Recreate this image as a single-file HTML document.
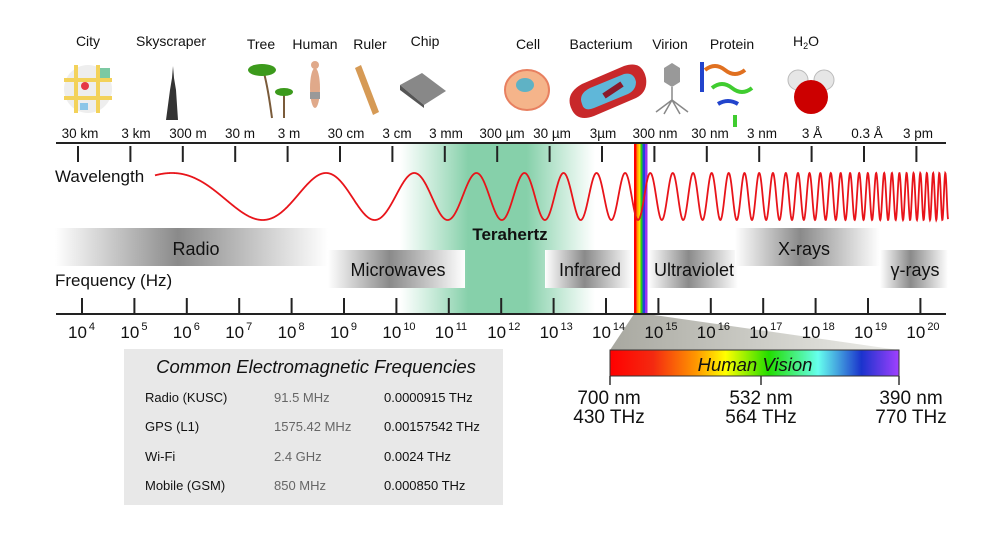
<!DOCTYPE html>
<html><head><meta charset="utf-8"><style>
html,body{margin:0;padding:0;background:#fff}
svg{display:block;font-family:"Liberation Sans",Arial,sans-serif}
</style></head><body>
<svg width="1000" height="539" viewBox="0 0 1000 539" xmlns="http://www.w3.org/2000/svg">
<defs>
<linearGradient id="thz" x1="0" x2="1" y1="0" y2="0">
<stop offset="0" stop-color="#8fd6b2" stop-opacity="0"/>
<stop offset="0.35" stop-color="#86d0aa"/>
<stop offset="0.65" stop-color="#86d0aa"/>
<stop offset="1" stop-color="#8fd6b2" stop-opacity="0"/>
</linearGradient>
<linearGradient id="band" x1="0" x2="1" y1="0" y2="0">
<stop offset="0" stop-color="#fff"/>
<stop offset="0.45" stop-color="#8a8a8a"/>
<stop offset="1" stop-color="#fff"/>
</linearGradient>
<linearGradient id="vis" x1="0" x2="1" y1="0" y2="0">
<stop offset="0" stop-color="#f00"/>
<stop offset="0.15" stop-color="#f42a10"/>
<stop offset="0.3" stop-color="#ff9900"/>
<stop offset="0.4" stop-color="#ffff00"/>
<stop offset="0.55" stop-color="#22dd00"/>
<stop offset="0.72" stop-color="#66ffee"/>
<stop offset="0.87" stop-color="#1a33cc"/>
<stop offset="1" stop-color="#a040ff"/>
</linearGradient>
<linearGradient id="wedge" x1="0" x2="1" y1="0" y2="0">
<stop offset="0" stop-color="#a8a8a0"/>
<stop offset="1" stop-color="#eeeeea"/>
</linearGradient>
</defs>

<!-- terahertz -->
<rect x="400" y="143" width="195" height="171" fill="url(#thz)"/>

<!-- wedge (behind labels) -->
<path d="M634 314 L647 314 L899 350 L610 350 Z" fill="url(#wedge)"/>

<!-- bands -->
<rect x="55" y="228" width="273" height="38" fill="url(#band)"/>
<rect x="328" y="250" width="137" height="38" fill="url(#band)"/>
<rect x="545" y="250" width="88" height="38" fill="url(#band)"/>
<rect x="648" y="250" width="90" height="38" fill="url(#band)"/>
<rect x="735" y="228" width="145" height="38" fill="url(#band)"/>
<rect x="880" y="250" width="68" height="38" fill="url(#band)"/>
<g font-size="18" fill="#111" text-anchor="middle">
<text x="196" y="255">Radio</text>
<text x="398" y="276">Microwaves</text>
<text x="590" y="276">Infrared</text>
<text x="694" y="276">Ultraviolet</text>
<text x="804" y="255">X-rays</text>
<text x="915" y="276">γ-rays</text>
</g>
<text x="510" y="240" font-size="17" font-weight="bold" text-anchor="middle" fill="#111">Terahertz</text>

<!-- rainbow strip -->
<rect x="634" y="143" width="2.5" height="171" fill="#f00"/>
<rect x="636.5" y="143" width="2" height="171" fill="#f90"/>
<rect x="638.5" y="143" width="2" height="171" fill="#fd0"/>
<rect x="640.5" y="143" width="2" height="171" fill="#2c2"/>
<rect x="642.5" y="143" width="2.5" height="171" fill="#2244dd"/>
<rect x="645" y="143" width="2.5" height="171" fill="#9933ee"/>

<!-- wave -->
<path id="wave" d="" fill="none" stroke="#e8141a" stroke-width="1.8"/>

<!-- axes -->
<line x1="56" y1="143" x2="946" y2="143" stroke="#222" stroke-width="2"/>
<line x1="56" y1="314" x2="946" y2="314" stroke="#222" stroke-width="2"/>
<g id="ticks" stroke="#222" stroke-width="2"></g>

<g font-size="13.5" fill="#111" text-anchor="middle">
<text x="80" y="138">30 km</text><text x="136" y="138">3 km</text><text x="188" y="138">300 m</text>
<text x="240" y="138">30 m</text><text x="289" y="138">3 m</text><text x="346" y="138">30 cm</text>
<text x="397" y="138">3 cm</text><text x="446" y="138">3 mm</text><text x="502" y="138">300 µm</text>
<text x="552" y="138">30 µm</text><text x="603" y="138">3µm</text><text x="655" y="138">300 nm</text>
<text x="710" y="138">30 nm</text><text x="762" y="138">3 nm</text><text x="812" y="138">3 Å</text>
<text x="867" y="138">0.3 Å</text><text x="918" y="138">3 pm</text>
</g>
<g id="botlabels" font-size="17" fill="#111"></g>

<text x="55" y="182" font-size="17" fill="#111">Wavelength</text>
<text x="55" y="286" font-size="17" fill="#111">Frequency (Hz)</text>

<!-- top icon labels -->
<g font-size="14" fill="#111" text-anchor="middle">
<text x="88" y="46">City</text><text x="171" y="46">Skyscraper</text>
<text x="261" y="49">Tree</text><text x="315" y="49">Human</text><text x="370" y="49">Ruler</text>
<text x="425" y="46">Chip</text><text x="528" y="49">Cell</text><text x="601" y="49">Bacterium</text>
<text x="670" y="49">Virion</text><text x="732" y="49">Protein</text>
<text x="806" y="46">H<tspan font-size="9" dy="3">2</tspan><tspan dy="-3">O</tspan></text>
</g>

<!-- icons -->
<circle cx="88" cy="89" r="24" fill="#eeeeee"/>
<rect x="64" y="78" width="48" height="4" fill="#f3d25a"/><rect x="64" y="96" width="48" height="4" fill="#f3d25a"/>
<rect x="74" y="65" width="4" height="48" fill="#f3d25a"/><rect x="96" y="65" width="4" height="48" fill="#f3d25a"/>
<rect x="100" y="68" width="10" height="10" fill="#7cc9a3"/><rect x="80" y="103" width="8" height="7" fill="#8cc6e8"/>
<circle cx="85" cy="86" r="4" fill="#e53945"/>
<path d="M166 120 h12 l-2 -30 l-2 -12 l-1 -12 l-1 12 l-2 12 z" fill="#333"/>
<path d="M272 118 q-4 -30 -8 -45" stroke="#7a5b3a" stroke-width="2" fill="none"/>
<ellipse cx="262" cy="70" rx="14" ry="6" fill="#3c9a1c"/>
<path d="M284 118 q0 -15 0 -25" stroke="#7a5b3a" stroke-width="2" fill="none"/>
<ellipse cx="284" cy="92" rx="9" ry="4" fill="#3c9a1c"/>
<ellipse cx="315" cy="88" rx="5" ry="20" fill="#e0a98a"/><circle cx="315" cy="65" r="4" fill="#e0a98a"/>
<rect x="310" y="92" width="10" height="7" fill="#999"/>
<path d="M355 68 l6 -3 l18 47 l-6 3 z" fill="#d69a55"/>
<path d="M400 85 l22 -12 l24 18 l-22 14 z" fill="#888"/>
<path d="M400 85 l0 5 l24 18 l0 -3 z" fill="#555"/>
<ellipse cx="527" cy="90" rx="22" ry="20" fill="#f5b48a" stroke="#e88060" stroke-width="2"/>
<ellipse cx="525" cy="85" rx="9" ry="7" fill="#5fb2c5"/>
<path d="M572 110 q-8 -16 10 -26 l42 -18 q18 -6 22 12 q2 14 -10 20 l-42 18 q-16 6 -22 -6z" fill="#c8282a"/>
<path d="M582 104 q-4 -10 8 -16 l34 -14 q10 -2 12 8 q0 8 -8 12 l-34 14 q-10 4 -12 -4z" fill="#5fb7d9"/>
<path d="M604 96 l18 -12" stroke="#8a1a2a" stroke-width="6"/>
<path d="M664 68 l8 -5 l8 5 v14 l-8 5 l-8 -5 z" fill="#999"/>
<path d="M672 87 v14 M672 100 l-16 12 M672 100 l16 12 M672 100 l-8 14 M672 100 l8 14" stroke="#888" stroke-width="1.5" fill="none"/>
<g fill="none" stroke-width="4">
<path d="M705 70 q10 -8 20 0 t20 0" stroke="#e07020"/>
<path d="M712 88 q10 -8 20 0 t20 0" stroke="#40cc30"/>
<path d="M702 62 v30" stroke="#2244cc"/>
<path d="M718 104 q10 -6 20 0" stroke="#2244cc"/>
<path d="M735 115 v12" stroke="#40cc30"/>
</g>
<circle cx="798" cy="80" r="10" fill="#e6e6e6" stroke="#bbb"/>
<circle cx="824" cy="80" r="10" fill="#e6e6e6" stroke="#bbb"/>
<circle cx="811" cy="97" r="17" fill="#cc0000"/>

<!-- table -->
<rect x="124" y="349" width="379" height="156" fill="#e8e8e8"/>
<text x="316" y="373" font-size="18.5" font-style="italic" text-anchor="middle" fill="#111">Common Electromagnetic Frequencies</text>
<g font-size="13" fill="#111">
<text x="145" y="402">Radio (KUSC)</text><text x="145" y="431">GPS (L1)</text>
<text x="145" y="461">Wi-Fi</text><text x="145" y="490">Mobile (GSM)</text>
<text x="384" y="402">0.0000915 THz</text><text x="384" y="431">0.00157542 THz</text>
<text x="384" y="461">0.0024 THz</text><text x="384" y="490">0.000850 THz</text>
</g>
<g font-size="13" fill="#666">
<text x="274" y="402">91.5 MHz</text><text x="274" y="431">1575.42 MHz</text>
<text x="274" y="461">2.4 GHz</text><text x="274" y="490">850 MHz</text>
</g>

<!-- human vision -->
<rect x="610" y="350" width="289" height="26" fill="url(#vis)" stroke="#333" stroke-width="1"/>
<text x="755" y="371" font-size="18.5" font-style="italic" text-anchor="middle" fill="#111">Human Vision</text>
<g stroke="#333" stroke-width="1.5"><line x1="610" y1="376" x2="610" y2="385"/><line x1="761" y1="376" x2="761" y2="385"/><line x1="899" y1="376" x2="899" y2="385"/></g>
<g font-size="19" fill="#111" text-anchor="middle">
<text x="609" y="404">700 nm</text><text x="609" y="423">430 THz</text>
<text x="761" y="404">532 nm</text><text x="761" y="423">564 THz</text>
<text x="911" y="404">390 nm</text><text x="911" y="423">770 THz</text>
</g>
</svg>
<script>
(function(){
var ns="http://www.w3.org/2000/svg";
var S=212, K=2*Math.PI*S/89, e0=Math.exp((326-370)/S);
var d="";
for(var x=155;x<=948;x+=0.25){
 var ph=K*(Math.exp((x-370)/S)-e0);
 var y=196.5-23.5*Math.cos(ph);
 d+=(x==155?"M":"L")+x.toFixed(2)+" "+y.toFixed(2);
}
document.getElementById("wave").setAttribute("d",d);
var g=document.getElementById("ticks");
for(var i=0;i<17;i++){
 var xt=78+52.4*i, xb=82+52.4*i;
 var l=document.createElementNS(ns,"line");
 l.setAttribute("x1",xt);l.setAttribute("x2",xt);l.setAttribute("y1",146);l.setAttribute("y2",162);g.appendChild(l);
 var l2=document.createElementNS(ns,"line");
 l2.setAttribute("x1",xb);l2.setAttribute("x2",xb);l2.setAttribute("y1",298);l2.setAttribute("y2",313);g.appendChild(l2);
 var t=document.createElementNS(ns,"text");
 t.setAttribute("x",xb-14);t.setAttribute("y",338);
 t.appendChild(document.createTextNode("10"));
 var s=document.createElementNS(ns,"tspan");
 s.setAttribute("font-size","11");s.setAttribute("dy","-8");s.setAttribute("dx","2");
 s.appendChild(document.createTextNode(String(i+4)));
 t.appendChild(s);
 document.getElementById("botlabels").appendChild(t);
}
})();
</script>
</body></html>
